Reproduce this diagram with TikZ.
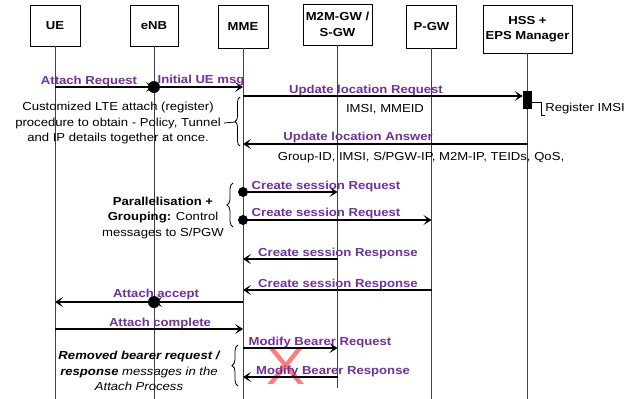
\documentclass[tikz,border=0pt]{standalone}
\usepackage{fontspec}
\setmainfont{Liberation Sans}[FakeStretch=1.13]
\usetikzlibrary{arrows.meta,positioning,decorations.pathreplacing}
\definecolor{msgpurple}{RGB}{112,48,160}
\definecolor{xred}{RGB}{255,100,100}

\begin{document}
\begin{tikzpicture}[
    x = 1pt, y = -1pt, % pixel units, y grows downwards
    > = {Stealth[length=8pt,width=10pt,inset=4pt]}, % arrow head style
    font = \fontsize{11.6}{15.8}\selectfont,
    semithick % line style
    ]

    \tikzset{
    entity/.style = {draw = black, line width = 0.8pt, align = center,
        font = \fontsize{11.6}{15.5}\selectfont\bfseries, inner sep = 0pt},
    life/.style = {draw = black!75, line width = 0.9pt},
    msg/.style = {->, line width = 1.8pt},
    lbl/.style = {anchor = base, inner sep = 0pt, text = msgpurple,
        font = \fontsize{11.6}{14}\selectfont\bfseries},
    note/.style = {align = center, inner sep = 0pt},
    dot/.style = {circle, fill = black, inner sep = 0pt, minimum size = #1},
    grp/.style = {decorate, decoration = {brace, amplitude = #1}, line width = 0.8pt}
    }
    \useasboundingbox (0,0) rectangle (638,399);

    % entities
    \node[entity, minimum width = 50pt, minimum height = 41pt] (ue) at (55,25.5) {UE};
    \node[entity, minimum width = 48pt, minimum height = 41pt] (enb) at (154,25.5) {eNB};
    \node[entity, minimum width = 50pt, minimum height = 43pt] (mme) at (243,26.5) {MME};
    \node[entity, minimum width = 69pt, minimum height = 41pt] (sgw) at (337.5,24.5) {M2M-GW /\\S-GW};
    \node[entity, minimum width = 50pt, minimum height = 43pt] (pgw) at (431.5,26.5) {P-GW};
    \node[entity, minimum width = 89pt, minimum height = 48pt] (hss) at (527.5,29) {HSS +\\EPS Manager};

    % message rows
    \coordinate (foot) at (0,399);
    \coordinate (areq) at (0,87);
    \coordinate (ulr) at (0,96);
    \coordinate (ula) at (0,144);
    \coordinate (csr1) at (0,192);
    \coordinate (csr2) at (0,220);
    \coordinate (csp1) at (0,259);
    \coordinate (csp2) at (0,290);
    \coordinate (aacc) at (0,302);
    \coordinate (acmp) at (0,329);
    \coordinate (mbr) at (0,348);
    \coordinate (mbp) at (0,377);

    % lifelines
    \foreach \e in {ue,enb,mme,pgw,hss}
        \draw[life] (\e) -- (\e |- foot);
    \draw[life] (sgw) -- (sgw |- 0,388);

    % removed messages
    \node[text = xred, opacity = 0.85, font = \fontsize{52}{52}\selectfont] (cross) at (286,367) {X};

    \node[fill = black, minimum width = 9pt, minimum height = 18pt, inner sep = 0pt] (act) at (hss |- 0,100) {};

    \draw[msg] (ue |- areq) -- (enb |- areq);
    \draw[msg] (enb |- areq) -- (mme |- areq);
    \draw[msg] (mme |- ulr) -- (act.west |- ulr);
    \draw[msg] (hss |- ula) -- (mme |- ula);
    \draw[msg] (mme |- csr1) -- (sgw |- csr1);
    \draw[msg] (mme |- csr2) -- (pgw |- csr2);
    \draw[msg] (sgw |- csp1) -- (mme |- csp1);
    \draw[msg] (pgw |- csp2) -- (mme |- csp2);
    \draw[msg] (mme |- aacc) -- (enb |- aacc);
    \draw[msg] (enb |- aacc) -- (ue |- aacc);
    \draw[msg] (ue |- acmp) -- (mme |- acmp);
    \draw[msg] (mme |- mbr) -- (sgw |- mbr);
    \draw[msg] (sgw |- mbp) -- (mme |- mbp);

    \node[dot = 12pt] (d1) at (enb |- areq) {};
    \node[dot = 10pt] (d2) at (mme |- csr1) {};
    \node[dot = 10pt] (d3) at (mme |- csr2) {};
    \node[dot = 12pt] (d4) at (enb |- aacc) {};

    % labels
    \node[lbl] (l1) at (89,84) {Attach Request};
    \node[lbl] (l2) at (201,83.5) {Initial UE msg};
    \node[lbl] (l3) at (366,93) {Update location Request};
    \node[lbl] (l4) at (358,140) {Update location Answer};
    \node[lbl] (l5) at (326,189) {Create session Request};
    \node[lbl] (l6) at (326,216.5) {Create session Request};
    \node[lbl] (l7) at (338,256) {Create session Response};
    \node[lbl] (l8) at (338,287) {Create session Response};
    \node[lbl] (l9) at (156,297.5) {Attach accept};
    \node[lbl] (l10) at (160,326) {Attach complete};
    \node[lbl] (l11) at (320,345) {Modify Bearer Request};
    \node[lbl] (l12) at (333,374) {Modify Bearer Response};

    \node[note, anchor = base] (ids) at (385,112) {IMSI, MMEID};
    \node[note, anchor = base] (params) at (421,160) {Group-ID, IMSI, S/PGW-IP, M2M-IP, TEIDs, QoS,};

    % register
    \node[note, anchor = base west] (reg) at (545,111) {Register IMSI};
    \draw[line width = 0.8pt] ([yshift = -2pt]act.east) -| ([xshift = -4pt, yshift = -2pt]reg.south west) -- ([yshift = -2pt]reg.south west);

    % notes on the left
    \node[note] (cust) at (118,123) {Customized LTE attach (register)\\procedure to obtain - Policy, Tunnel\\and IP details together at once.};
    \draw[grp = 5pt] (240,146) -- (240,97);
    \draw[line width = 0.8pt] ([xshift = 3pt]cust.east) -- (235,122);

    \node[note, font = \fontsize{11.6}{15.5}\selectfont] (par) at (163,217.5) {\textbf{Parallelisation +}\\\textbf{Grouping:} Control\\messages to S/PGW};
    \draw[grp = 6pt] (233,227) -- (233,183);

    \node[note, font = \fontsize{11.6}{15.5}\selectfont\itshape] (rem) at (139,371) {\textbf{Removed bearer request /}\\\textbf{response} messages in the\\Attach Process};
    \draw[grp = 6pt] (238,386) -- (238,345);
\end{tikzpicture}
\end{document}
